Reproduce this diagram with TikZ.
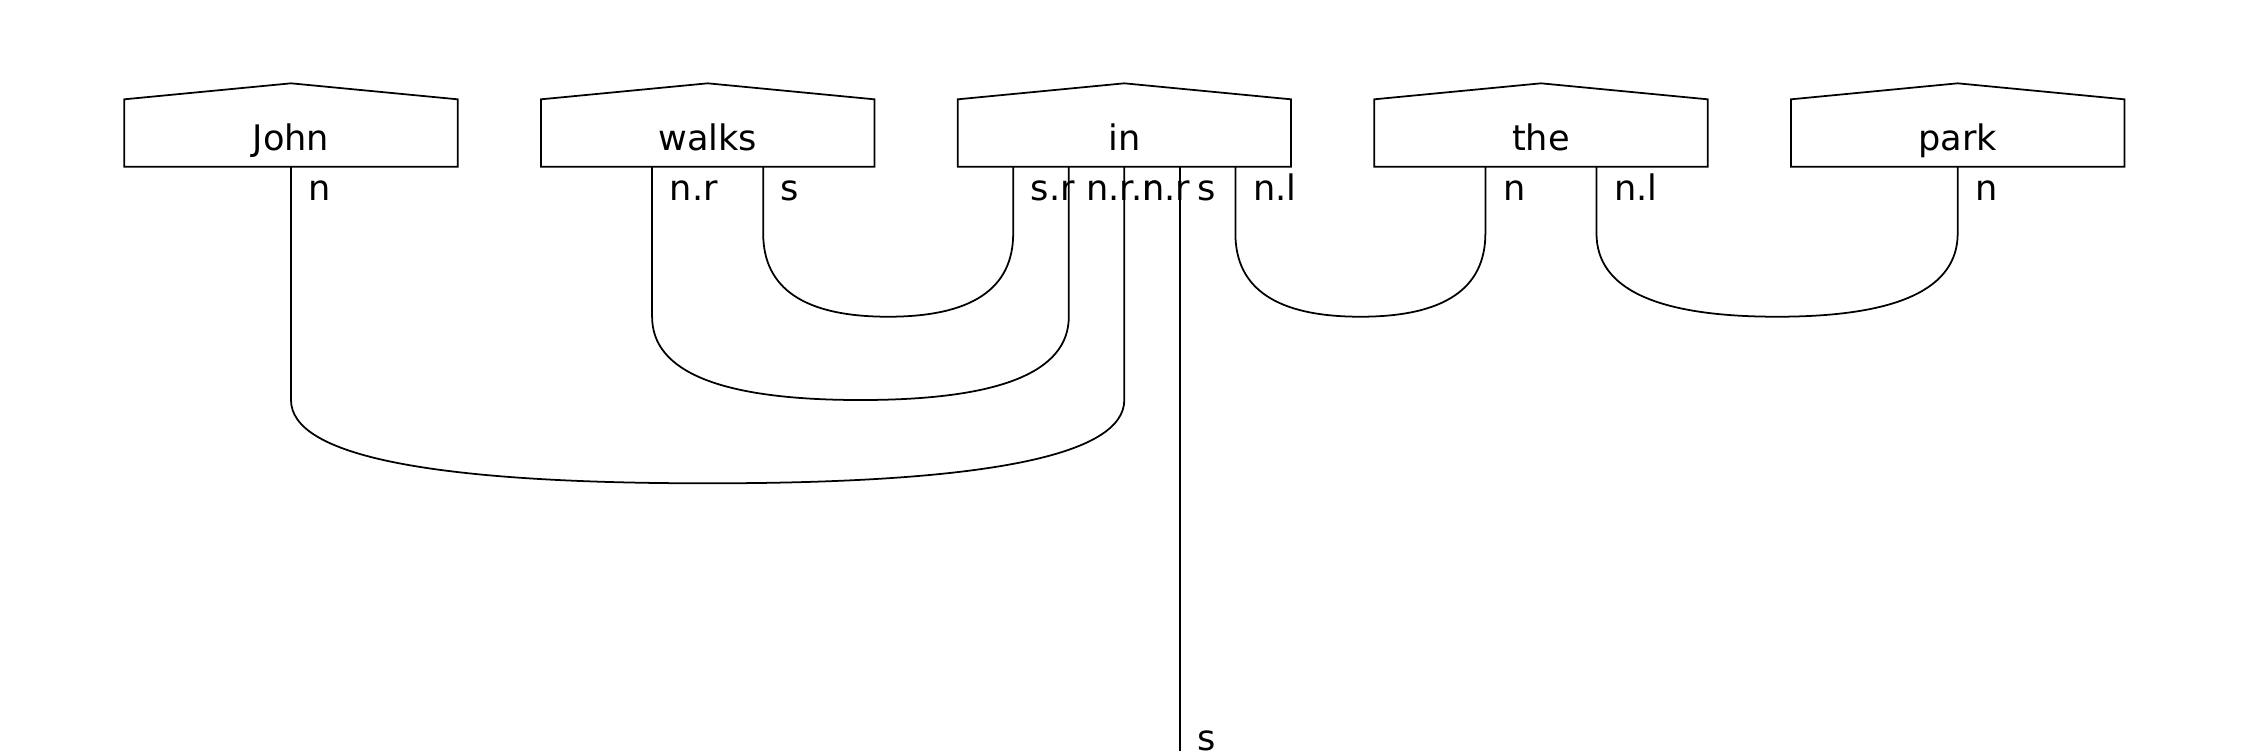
\documentclass[tikz,border=0pt]{standalone}
\usepackage{fontspec}
\setmainfont{DejaVu Sans}
\usepackage{tikz}
\usetikzlibrary{calc}
\usetikzlibrary{positioning}

\tikzset{
  word/.style={font=\fontsize{10}{12}\selectfont,inner sep=0pt,anchor=base},
  wirelabel/.style={font=\fontsize{10}{12}\selectfont,inner sep=0pt,anchor=base west},
  wire/.style={line width=0.5pt},
  boxline/.style={line width=0.5pt,line join=miter}
}

\begin{document}
\begin{tikzpicture}[x=0.01cm,y=-0.01cm]
\useasboundingbox (0,0) rectangle (2250,750);
% word boxes
\draw[boxline] (124.3,166.7) -- (124.3,99.3) -- (291,83.3) -- (457.7,99.3) -- (457.7,166.7) -- cycle;
\draw[boxline] (541,166.7) -- (541,99.3) -- (707.7,83.3) -- (874.4,99.3) -- (874.4,166.7) -- cycle;
\draw[boxline] (957.7,166.7) -- (957.7,99.3) -- (1124.3,83.3) -- (1291,99.3) -- (1291,166.7) -- cycle;
\draw[boxline] (1374.3,166.7) -- (1374.3,99.3) -- (1541,83.3) -- (1707.7,99.3) -- (1707.7,166.7) -- cycle;
\draw[boxline] (1791,166.7) -- (1791,99.3) -- (1957.7,83.3) -- (2124.4,99.3) -- (2124.4,166.7) -- cycle;
\node[word] (john) at (291,150) {John};
\node[word] (walks) at (707.7,150) {walks};
\node[word] (in) at (1124.3,150) {in};
\node[word] (the) at (1541,150) {the};
\node[word] (park) at (1957.7,150) {park};

% ports
\coordinate (john-n) at (291,166.7);
\coordinate (walks-nr) at (652.1,166.7);
\coordinate (walks-s) at (763.2,166.7);
\coordinate (in-sr) at (1013.2,166.7);
\coordinate (in-nrr) at (1068.8,166.7);
\coordinate (in-nr) at (1124.3,166.7);
\coordinate (in-s) at (1179.8,166.7);
\coordinate (in-nl) at (1235.4,166.7);
\coordinate (the-n) at (1485.4,166.7);
\coordinate (the-nl) at (1596.5,166.7);
\coordinate (park-n) at (1957.7,166.7);
\coordinate (out-s) at (1179.8,760);

% bottoms of the cups
\coordinate (cup1) at (888.2,316.7);
\coordinate (cup2) at (860.5,400);
\coordinate (cup3) at (707.7,483.3);
\coordinate (cup4) at (1360.4,316.7);
\coordinate (cup5) at (1777.1,316.7);

% cups
\draw[wire] (walks-s) -- ($(walks-s)+(0,66.7)$) .. controls +(0,55.6) and +(-83.3,0) .. (cup1) .. controls +(83.3,0) and +(0,55.6) .. ($(in-sr)+(0,66.7)$) -- (in-sr);
\draw[wire] (walks-nr) -- ($(walks-nr)+(0,150)$) .. controls +(0,55.6) and +(-138.9,0) .. (cup2) .. controls +(138.9,0) and +(0,55.6) .. ($(in-nrr)+(0,150)$) -- (in-nrr);
\draw[wire] (john-n) -- ($(john-n)+(0,233.3)$) .. controls +(0,55.6) and +(-277.8,0) .. (cup3) .. controls +(277.8,0) and +(0,55.6) .. ($(in-nr)+(0,233.3)$) -- (in-nr);
\draw[wire] (in-nl) -- ($(in-nl)+(0,66.7)$) .. controls +(0,55.6) and +(-83.3,0) .. (cup4) .. controls +(83.3,0) and +(0,55.6) .. ($(the-n)+(0,66.7)$) -- (the-n);
\draw[wire] (the-nl) -- ($(the-nl)+(0,66.7)$) .. controls +(0,55.6) and +(-120.4,0) .. (cup5) .. controls +(120.4,0) and +(0,55.6) .. ($(park-n)+(0,66.7)$) -- (park-n);
\draw[wire] (in-s) -- (out-s);

% wire labels
\node[wirelabel] (lab-john-n) at (308,200) {n};
\node[wirelabel] (lab-walks-nr) at (669.1,200) {n.r};
\node[wirelabel] (lab-walks-s) at (780.2,200) {s};
\node[wirelabel] (lab-in-sr) at (1030.2,200) {s.r};
\node[wirelabel] (lab-in-nrr) at (1085.8,200) {n.r.r};
\node[wirelabel] (lab-in-nr) at (1141.3,200) {n.r};
\node[wirelabel] (lab-in-s) at (1196.8,200) {s};
\node[wirelabel] (lab-in-nl) at (1252.4,200) {n.l};
\node[wirelabel] (lab-the-n) at (1502.4,200) {n};
\node[wirelabel] (lab-the-nl) at (1613.5,200) {n.l};
\node[wirelabel] (lab-park-n) at (1974.7,200) {n};
\node[wirelabel] (lab-out-s) at (1196.8,750.5) {s};

\end{tikzpicture}
\end{document}
